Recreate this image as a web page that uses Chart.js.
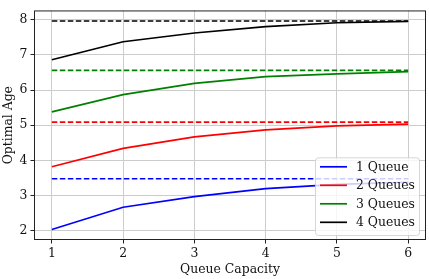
<!DOCTYPE html>
<html><head><meta charset="utf-8">
<script src="https://cdn.jsdelivr.net/npm/chart.js@4/dist/chart.umd.min.js"></script>
<style>html,body{margin:0;padding:0;background:#fff}canvas{display:block}</style>
</head><body>
<canvas id="c" width="429" height="279" style="width:429px;height:279px"></canvas>
<script>
const capacities = [1, 2, 3, 4, 5, 6];
const seriesNames = ['1 Queue', '2 Queues', '3 Queues', '4 Queues'];
const q1 = [2.04, 2.67, 2.97, 3.20, 3.32, 3.38];
const q2 = [3.82, 4.34, 4.67, 4.87, 4.98, 5.03];
const q3 = [5.38, 5.87, 6.19, 6.38, 6.46, 6.52];
const q4 = [6.86, 7.37, 7.62, 7.80, 7.91, 7.95];
const limits = [3.48, 5.09, 6.56, 7.96];
const xTicks = [1, 2, 3, 4, 5, 6];
const yTicks = [2, 3, 4, 5, 6, 7, 8];
const colors = ['#0000ff', '#ff0000', '#008000', '#000000'];

const FONT = 'DejaVu Serif';
const TEXT = '#111';
const solid = [q1, q2, q3, q4];
const datasets = [];
solid.forEach((s, i) => {
  datasets.push({
    label: seriesNames[i], showInLegend: true,
    data: capacities.map((c, j) => ({x: c, y: s[j]})),
    borderColor: colors[i], borderWidth: 1.7, pointRadius: 0, tension: 0, fill: false
  });
});
limits.forEach((v, i) => {
  datasets.push({
    label: seriesNames[i] + ' limit', showInLegend: false,
    data: [{x: capacities[0], y: v}, {x: capacities[capacities.length - 1], y: v}],
    borderColor: colors[i], borderWidth: 1.7, borderDash: [5.5, 2.5], pointRadius: 0, fill: false
  });
});

const legendPlugin = {
  id: 'boxLegend',
  afterDatasetsDraw(chart) {
    const ctx = chart.ctx, a = chart.chartArea;
    const items = chart.data.datasets.filter(d => d.showInLegend);
    const w = 104, rowH = 18.5, h = 77.7;
    const x0 = a.right - 7 - w, y0 = a.bottom - 5 - h;
    ctx.save();
    ctx.beginPath();
    if (ctx.roundRect) ctx.roundRect(x0 + 0.5, y0 + 0.5, w, h, 3); else ctx.rect(x0 + 0.5, y0 + 0.5, w, h);
    ctx.fillStyle = 'rgba(255,255,255,0.8)';
    ctx.fill();
    ctx.strokeStyle = 'rgba(204,204,204,0.8)';
    ctx.lineWidth = 1;
    ctx.stroke();
    ctx.font = '12.4px "' + FONT + '"';
    ctx.textBaseline = 'middle';
    ctx.fillStyle = TEXT;
    items.forEach((d, i) => {
      const cy = y0 + 9.5 + i * rowH;
      ctx.beginPath();
      ctx.strokeStyle = d.borderColor;
      ctx.lineWidth = 1.7;
      ctx.moveTo(x0 + 5, cy); ctx.lineTo(x0 + 32, cy);
      ctx.stroke();
      ctx.fillText(d.label, x0 + 41, cy + 0.5);
    });
    ctx.restore();
  },
  afterDraw(chart) {
    const ctx = chart.ctx, a = chart.chartArea;
    ctx.save();
    ctx.strokeStyle = '#222';
    ctx.lineWidth = 1;
    ctx.strokeRect(a.left + 0.5, a.top + 0.5, a.right - a.left - 1, a.bottom - a.top - 1);
    ctx.restore();
  }
};

new Chart(document.getElementById('c'), {
  type: 'line',
  data: {datasets},
  options: {
    responsive: false, animation: false, devicePixelRatio: 1,
    layout: {padding: {top: 2, right: 3, left: 0, bottom: 0}},
    plugins: {legend: {display: false}, tooltip: {enabled: false}},
    scales: {
      x: {
        type: 'linear', min: 0.75, max: 6.25,
        afterBuildTicks: s => { s.ticks = xTicks.map(v => ({value: v})); },
        afterFit: s => { s.height = 39; },
        grid: {color: '#cccccc', lineWidth: 1, tickLength: 3.5, tickColor: '#222'},
        border: {display: false},
        ticks: {font: {family: FONT, size: 12.4}, color: TEXT, padding: 3, maxRotation: 0},
        title: {display: true, text: 'Queue Capacity', font: {family: FONT, size: 12.4}, color: TEXT, padding: {top: 0, bottom: 2}}
      },
      y: {
        type: 'linear', min: 1.74, max: 8.26,
        afterBuildTicks: s => { s.ticks = yTicks.map(v => ({value: v})); },
        afterFit: s => { s.width = 34; },
        grid: {color: '#cccccc', lineWidth: 1, tickLength: 3.5, tickColor: '#222'},
        border: {display: false},
        ticks: {font: {family: FONT, size: 12.4}, color: TEXT, padding: 3},
        title: {display: true, text: 'Optimal Age', font: {family: FONT, size: 12.4}, color: TEXT, padding: {top: 1, bottom: 0}}
      }
    }
  },
  plugins: [legendPlugin]
});
</script>
</body></html>
